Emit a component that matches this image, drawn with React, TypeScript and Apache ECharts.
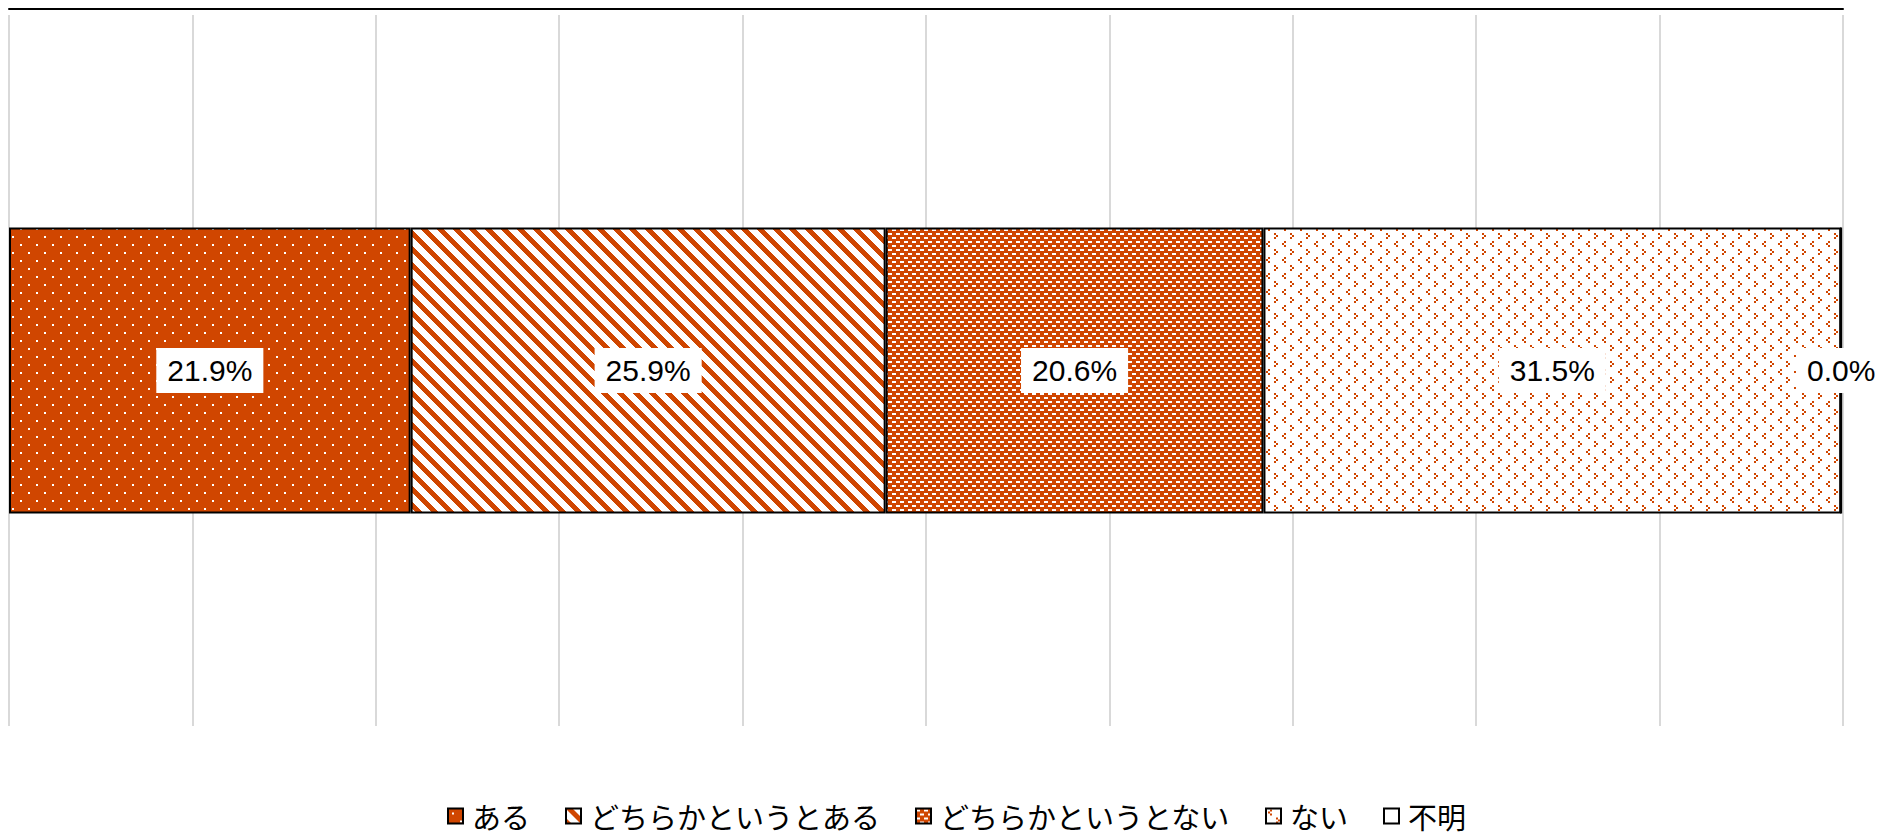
import React, { useEffect, useRef } from 'react';
import * as echarts from 'echarts';

const categories = ['回答'];
const seriesNames = ['ある', 'どちらかというとある', 'どちらかというとない', 'ない', '不明'];
const values = [21.9, 25.9, 20.6, 31.5, 0.0];
const axisMin = 0;
const axisMax = 100;
const axisInterval = 10;

const ORANGE = '#D04600';

function tile(size: number, paint: (ctx: CanvasRenderingContext2D) => void) {
  const c = document.createElement('canvas');
  c.width = size;
  c.height = size;
  const ctx = c.getContext('2d') as CanvasRenderingContext2D;
  paint(ctx);
  return { image: c, repeat: 'repeat', imageWidth: size, imageHeight: size } as any;
}

function makePatterns() {
  const dots = tile(16, (ctx) => {
    ctx.fillStyle = ORANGE;
    ctx.fillRect(0, 0, 16, 16);
    ctx.fillStyle = '#fff';
    ctx.fillRect(4, 4, 2, 2);
    ctx.fillRect(12, 12, 2, 2);
  });
  const diag = tile(16, (ctx) => {
    ctx.fillStyle = '#fff';
    ctx.fillRect(0, 0, 16, 16);
    ctx.fillStyle = ORANGE;
    for (let y = 0; y < 16; y++) {
      for (let x = 0; x < 16; x++) {
        if ((((x - y) % 16) + 16) % 16 < 7) ctx.fillRect(x, y, 1, 1);
      }
    }
  });
  const brick = tile(8, (ctx) => {
    ctx.fillStyle = ORANGE;
    ctx.fillRect(0, 0, 8, 8);
    ctx.fillStyle = '#fff';
    ctx.fillRect(0, 1, 4, 2);
    ctx.fillRect(4, 5, 4, 2);
  });
  const chevron = tile(16, (ctx) => {
    ctx.fillStyle = '#fff';
    ctx.fillRect(0, 0, 16, 16);
    ctx.fillStyle = ORANGE;
    ctx.fillRect(4, 1, 2, 2);
    ctx.fillRect(2, 3, 2, 2);
    ctx.fillRect(4, 5, 2, 2);
    ctx.fillRect(10, 9, 2, 2);
    ctx.fillRect(12, 11, 2, 2);
    ctx.fillRect(10, 13, 2, 2);
  });
  return [dots, diag, brick, chevron, '#ffffff'];
}

export default function App() {
  const ref = useRef<HTMLDivElement>(null);
  useEffect(() => {
    if (!ref.current) return;
    const chart = echarts.init(ref.current, undefined, { renderer: 'svg' });
    const patterns = makePatterns();
    const series = seriesNames.map((name, i) => ({
      type: 'bar',
      name,
      stack: 'total',
      data: [values[i]],
      barWidth: 286,
      itemStyle: { color: patterns[i], borderColor: '#000', borderWidth: 2 },
      label: {
        show: true,
        position: 'inside',
        formatter: (p: any) => Number(p.value).toFixed(1) + '%',
        color: '#000',
        backgroundColor: '#fff',
        fontFamily: 'Liberation Sans, Arial, sans-serif',
        fontSize: 30,
        lineHeight: 33,
        padding: [6, 11],
      },
    }));
    chart.setOption({
      animation: false,
      backgroundColor: '#fff',
      grid: { left: 9, right: 39, top: 15, bottom: 110, containLabel: false },
      xAxis: {
        type: 'value',
        min: axisMin,
        max: axisMax,
        interval: axisInterval,
        position: 'top',
        offset: 6,
        axisLine: { show: true, lineStyle: { color: '#000', width: 2 } },
        axisTick: { show: false },
        axisLabel: { show: false },
        splitLine: { show: true, lineStyle: { color: '#d9d9d9', width: 2 } },
      },
      yAxis: {
        type: 'category',
        data: categories,
        axisLine: { show: false },
        axisTick: { show: false },
        axisLabel: { show: false },
        splitLine: { show: false },
      },
      legend: {
        data: seriesNames,
        left: 442,
        top: 796,
        icon: 'rect',
        itemWidth: 15,
        itemHeight: 15,
        itemGap: 35,
        textStyle: {
          color: '#000',
          fontSize: 29,
          lineHeight: 30,
          fontFamily: 'Noto Sans CJK JP, sans-serif',
          padding: [0, 0, 0, 4],
        },
      },
      series,
    });
    return () => chart.dispose();
  }, []);
  return (
    <div
      ref={ref}
      style={{ position: 'fixed', left: 0, top: 0, width: 1882, height: 836, background: '#fff' }}
    />
  );
}
